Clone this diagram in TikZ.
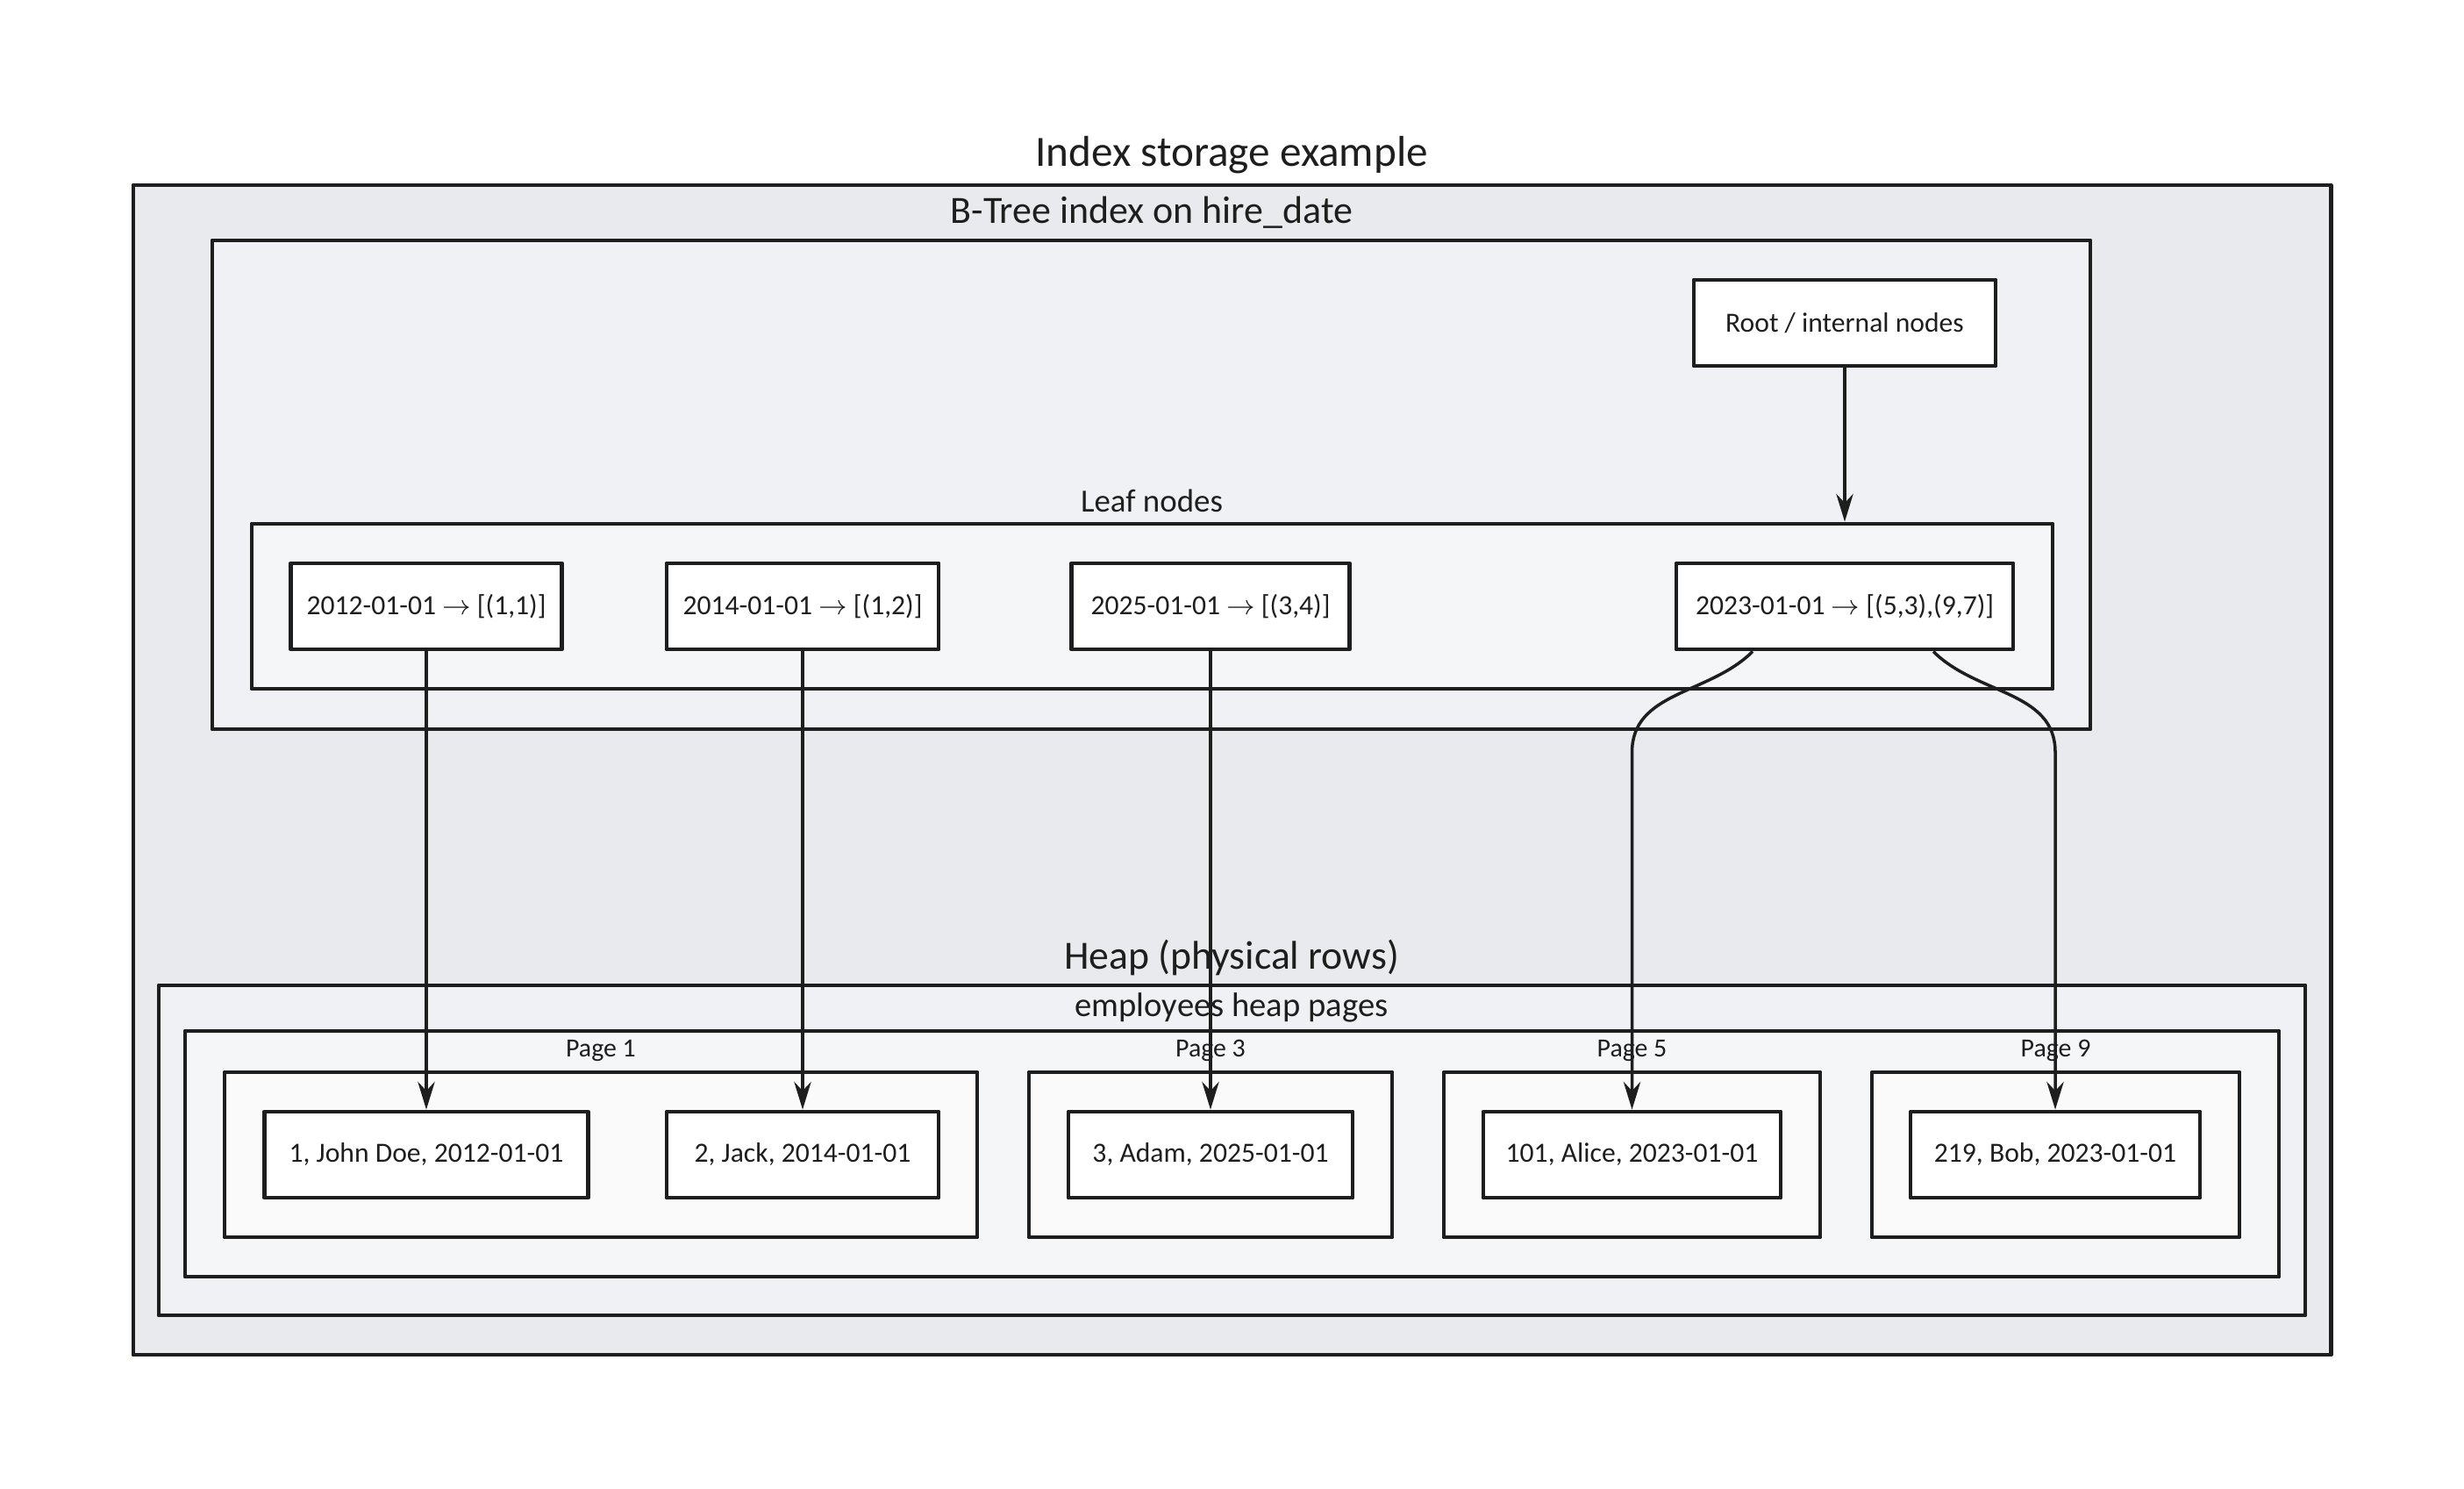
\documentclass[tikz,border=0pt]{standalone}
\usepackage{fontspec}
\setmainfont{Carlito}
\usetikzlibrary{arrows.meta,calc}

\definecolor{ink}{HTML}{1E1E1E}
\definecolor{lvA}{HTML}{E8EAEE}
\definecolor{lvB}{HTML}{EFF1F4}
\definecolor{lvC}{HTML}{F5F6F8}
\definecolor{lvD}{HTML}{FAFAFB}

\begin{document}
\begin{tikzpicture}
[line join=round,
 every node/.style={text=ink},
 box/.style={draw=ink, line width=1.4pt, rectangle, inner sep=0pt},
 cell/.style={box, fill=white, minimum height=.98cm, font=\fontsize{9}{11}\selectfont},
 lbl/.style={inner sep=0pt},
 arr/.style={draw=ink, line width=1pt, -{Stealth[length=9pt,width=5.5pt]}}]
\def \rowy {-13.16}
\def \leafy {-6.91}
\useasboundingbox (0,0) rectangle (28.09,-16.96);
\fill[white] (0,0) rectangle (28.09,-16.96);

% outer cluster
\node[box, fill=lvA, minimum width=25.05cm, minimum height=13.33cm] (storage) at (14.045,-8.775) {};
\node[lbl, font=\fontsize{14}{16}\selectfont] (storagelbl) at (14.04,-1.77) {Index storage example};

% b-tree index
\node[box, fill=lvB, minimum width=21.41cm, minimum height=5.57cm] (btree) at (13.125,-5.525) {};
\node[lbl, font=\fontsize{12.5}{14}\selectfont] (btreelbl) at (13.13,-2.42) {B-Tree index on hire\_date};
\node[cell, minimum width=3.44cm] (root) at (21.03,-3.68) {Root / internal nodes};
\node[box, fill=lvC, minimum width=20.53cm, minimum height=1.88cm] (leafs) at (13.135,\leafy) {};
\node[lbl, font=\fontsize{10.5}{12}\selectfont] (leafslbl) at (13.13,-5.71) {Leaf nodes};
\node[cell, minimum width=3.09cm] (L1) at (4.86,\leafy) {2012-01-01 $\rightarrow$ [(1,1)]};
\node[cell, minimum width=3.10cm] (L2) at (9.15,\leafy) {2014-01-01 $\rightarrow$ [(1,2)]};
\node[cell, minimum width=3.17cm] (L3) at (13.80,\leafy) {2025-01-01 $\rightarrow$ [(3,4)]};
\node[cell, minimum width=3.84cm] (L4) at (21.03,\leafy) {2023-01-01 $\rightarrow$ [(5,3),(9,7)]};

% heap
\node[box, fill=lvB, minimum width=24.47cm, minimum height=3.76cm] (heap) at (14.045,-13.11) {};
\node[lbl, font=\fontsize{13}{15}\selectfont] (heaplbl) at (14.04,-10.91) {Heap (physical rows)};
\node[box, fill=lvC, minimum width=23.87cm, minimum height=2.80cm] (pages) at (14.045,-13.15) {};
\node[lbl, font=\fontsize{11}{13}\selectfont] (pageslbl) at (14.04,-11.48) {employees heap pages};
\foreach \p/\x/\w in {1/6.85/8.58, 3/13.80/4.14, 5/18.605/4.29, 9/23.435/4.19}
{
  \node[box, fill=lvD, minimum width=\w cm, minimum height=1.88cm] (P\p) at (\x,\rowy) {};
  \node[lbl, font=\fontsize{8.5}{10}\selectfont] (P\p lbl) at (\x,-11.97) {Page \p};
}
\node[cell, minimum width=3.69cm] (R1) at (4.86,\rowy) {1, John Doe, 2012-01-01};
\node[cell, minimum width=3.10cm] (R2) at (9.15,\rowy) {2, Jack, 2014-01-01};
\node[cell, minimum width=3.24cm] (R3) at (13.80,\rowy) {3, Adam, 2025-01-01};
\node[cell, minimum width=3.39cm] (R5) at (18.605,\rowy) {101, Alice, 2023-01-01};
\node[cell, minimum width=3.30cm] (R9) at (23.43,\rowy) {219, Bob, 2023-01-01};

% pointers
\draw[arr] (root.south) -- (root.south |- leafs.north);
\foreach \i in {1,2,3}
  \draw[arr] (L\i.south) -- (R\i.north);
\draw[arr] ([xshift=-1.05cm]L4.south) to[out=-135,in=90] ($(R5.north |- L4.south)+(0,-1.15)$) -- (R5.north);
\draw[arr] ([xshift=1.01cm]L4.south) to[out=-45,in=90] ($(R9.north |- L4.south)+(0,-1.15)$) -- (R9.north);
\end{tikzpicture}
\end{document}
